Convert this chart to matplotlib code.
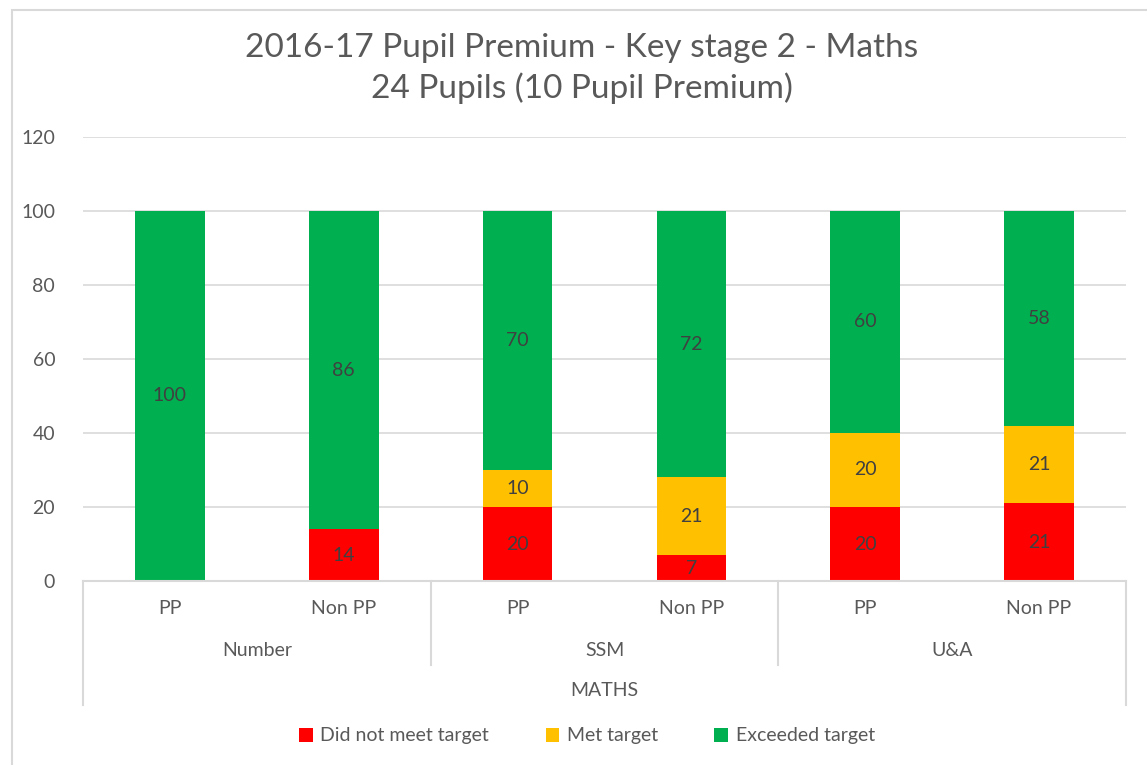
import numpy as np
import matplotlib
matplotlib.use("Agg")
import matplotlib.pyplot as plt
from matplotlib.patches import Rectangle
from matplotlib.transforms import blended_transform_factory

plt.rcParams['font.family'] = ['Lato', 'DejaVu Sans']

# data
subjects = ["Number", "SSM", "U&A"]
groups = ["PP", "Non PP"]
top_label = "MATHS"
did_not_meet = [0, 14, 20, 7, 20, 21]
met_target = [0, 0, 10, 21, 20, 21]
exceeded = [100, 86, 70, 72, 60, 58]
series_names = ["Did not meet target", "Met target", "Exceeded target"]
colors = ["#ff0000", "#ffc000", "#00b050"]

W, H = 1147, 765
fig = plt.figure(figsize=(W / 100, H / 100), dpi=100)

# outer chart border
fig.patches.append(Rectangle((12 / W, -0.01), 1.1, 1 - 10 / H + 0.01, transform=fig.transFigure,
                             fill=False, edgecolor="#d9d9d9", lw=1.5))

left, right, top, bottom = 83, 1126, 137, 581
ax = fig.add_axes([left / W, 1 - bottom / H, (right - left) / W, (bottom - top) / H])

x = np.arange(len(did_not_meet)) + 0.5
width = 0.4
data = [did_not_meet, met_target, exceeded]
base = np.zeros(len(x))
for vals, name, c in zip(data, series_names, colors):
    vals = np.array(vals, dtype=float)
    ax.bar(x, vals, width, bottom=base, color=c, label=name, zorder=2)
    for xi, b, v in zip(x, base, vals):
        if v > 0:
            ax.text(xi, b + v / 2, f"{int(v)}", ha="center", va="center",
                    fontsize=14, color="#404040", zorder=3)
    base += vals

ax.set_xlim(0, len(x))
ax.set_ylim(0, 120)
ax.set_yticks(range(0, 121, 20))
ax.tick_params(axis="y", length=0, labelsize=14, labelcolor="#595959", pad=20)
ax.set_xticks([])
ax.grid(axis="y", color="#d9d9d9", lw=1.2, zorder=0)
for s in ["top", "right", "left"]:
    ax.spines[s].set_visible(False)
ax.spines["bottom"].set_color("#d9d9d9")
ax.spines["bottom"].set_linewidth(1.5)

ah = bottom - top


def ya(py):
    # pixel row -> axes fraction
    return (bottom - py) / ah


tr = blended_transform_factory(ax.transData, ax.transAxes)
lab_kw = dict(ha="center", va="center", fontsize=14, color="#595959", transform=tr)

n = len(x)
# separators
for xs in [0, n]:
    ax.plot([xs, xs], [0, ya(705)], color="#d9d9d9", lw=1.5, transform=tr, clip_on=False)
for k in range(1, len(subjects)):
    xs = k * len(groups)
    ax.plot([xs, xs], [0, ya(665)], color="#d9d9d9", lw=1.5, transform=tr, clip_on=False)

for i, xi in enumerate(x):
    ax.text(xi, ya(609), groups[i % len(groups)], **lab_kw)
for k, s in enumerate(subjects):
    ax.text(k * len(groups) + len(groups) / 2, ya(650), s, **lab_kw)
ax.text(n / 2, ya(690), top_label, **lab_kw)

fig.text(582 / W, 1 - 48 / H, "2016-17 Pupil Premium - Key stage 2 - Maths",
         ha="center", va="center", fontsize=24, color="#595959")
fig.text(582 / W, 1 - 88 / H, "24 Pupils (10 Pupil Premium)",
         ha="center", va="center", fontsize=24, color="#595959")

leg = fig.legend(loc="center", bbox_to_anchor=(587 / W, 1 - 736 / H), ncol=3, frameon=False,
                 fontsize=14, handlelength=0.7, handleheight=0.7, handletextpad=0.4,
                 columnspacing=2.9)
for t in leg.get_texts():
    t.set_color("#595959")

fig.savefig("out.png", dpi=100)
